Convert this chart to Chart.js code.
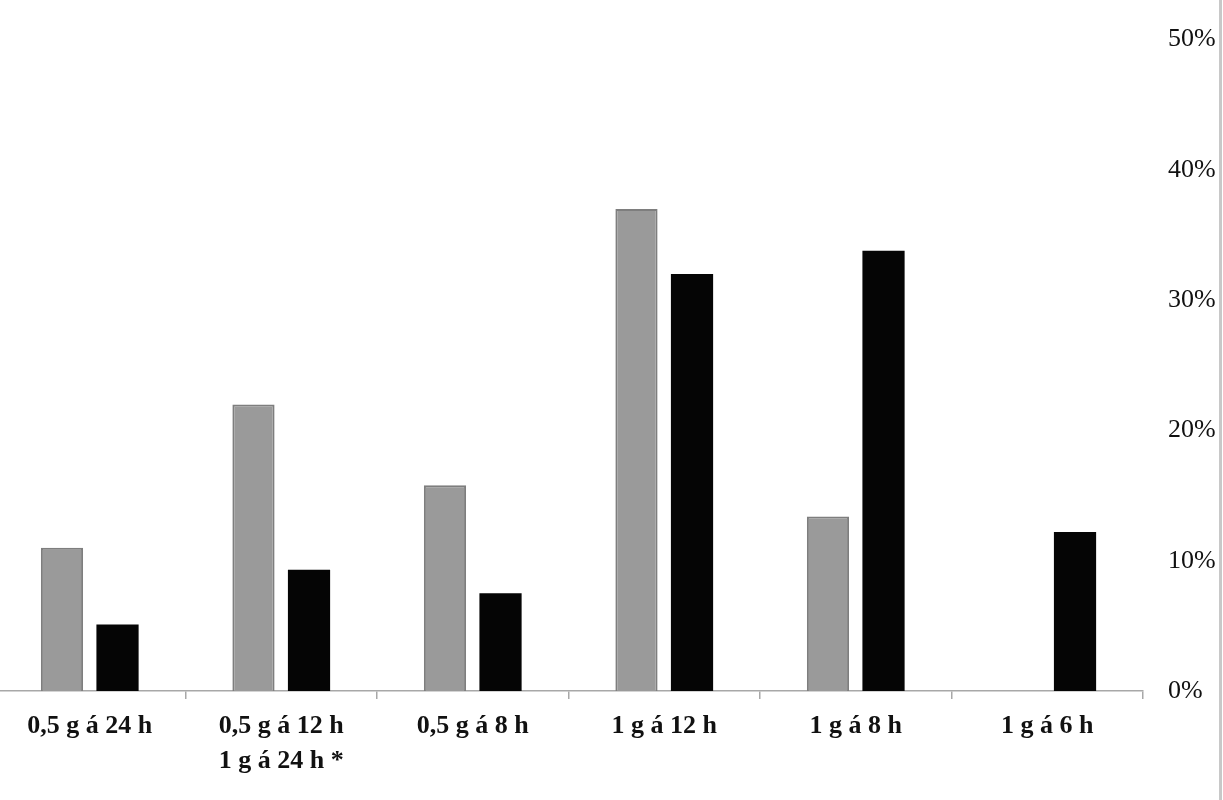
<!DOCTYPE html>
<html>
<head>
<meta charset="utf-8">
<script src="https://cdn.jsdelivr.net/npm/chart.js@4"></script>
<style>
  html, body { margin: 0; padding: 0; background: #fff; overflow: hidden; }
  #wrap { position: absolute; left: -6px; top: 7px; width: 1229px; height: 800px; }
  #edge { position: absolute; left: 1219px; top: 0; width: 3px; height: 800px; background: #c8c8c8; }
</style>
</head>
<body>
<div id="wrap"><canvas id="chart"></canvas></div>
<div id="edge"></div>
<script>
const categories = [
    '0,5 g á 24 h',
    ['0,5 g á 12 h', '1 g á 24 h *'],
    '0,5 g á 8 h',
    '1 g á 12 h',
    '1 g á 8 h',
    '1 g á 6 h'
];
const greySeries = [11, 22, 15.8, 37, 13.4, 0];
const blackSeries = [5.1, 9.3, 7.5, 32, 33.8, 12.2];
const yTicks = [0, 10, 20, 30, 40, 50];

const ctx = document.getElementById('chart').getContext('2d');
const chart = new Chart(ctx, {
    type: 'bar',
    data: {
        labels: categories,
        datasets: [{
            label: 'A',
            data: greySeries,
            backgroundColor: '#9a9a9a',
            borderColor: '#7e7e7e',
            borderWidth: 2,
        }, {
            label: 'B',
            data: blackSeries,
            backgroundColor: '#050505',
            borderColor: '#050505',
            borderWidth: 0,
        }],
    },
    options: {
        responsive: true,
        maintainAspectRatio: false,
        animation: false,
        layout: { padding: { top: 24, right: 0, left: 0, bottom: 0 } },
        plugins: {
            legend: { display: false },
            tooltip: { enabled: false },
        },
        datasets: {
            bar: { categoryPercentage: 0.58, barPercentage: 0.76 },
        },
        scales: {
            x: {
                grid: {
                    display: true,
                    drawOnChartArea: false,
                    drawTicks: true,
                    tickLength: 8,
                    color: '#a8a8a8',
                    lineWidth: 1.5,
                    offset: true,
                },
                border: { display: true, color: '#a8a8a8', width: 1.5 },
                ticks: {
                    color: '#111',
                    padding: 10,
                    maxRotation: 0,
                    autoSkip: false,
                    font: { family: '"Liberation Serif", "Times New Roman", serif', size: 26, weight: 'bold', lineHeight: 1.35 },
                },
                afterFit: (scale) => { scale.height = 116; },
            },
            y: {
                position: 'right',
                min: 0,
                max: 50,
                afterBuildTicks: (scale) => { scale.ticks = yTicks.map(v => ({ value: v })); },
                grid: { display: false },
                border: { display: false },
                ticks: {
                    color: '#111',
                    padding: 17,
                    callback: (v) => v + '%',
                    font: { family: '"Liberation Serif", "Times New Roman", serif', size: 26 },
                },
                afterFit: (scale) => { scale.width = 80; },
            },
        },
    },
});
</script>
</body>
</html>
